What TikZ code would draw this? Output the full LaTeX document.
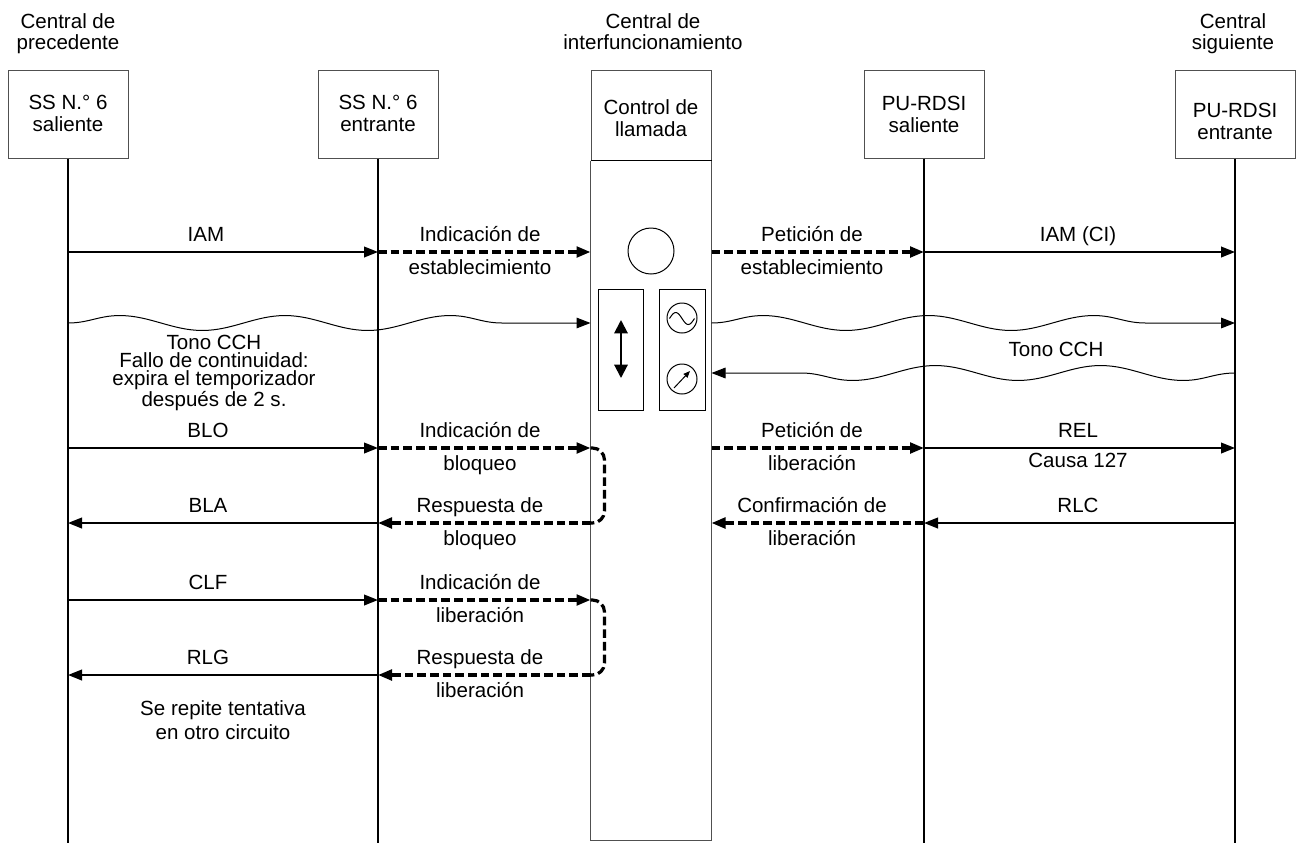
\documentclass[tikz,border=0pt]{standalone}
\usepackage{fontspec}
\setmainfont{Liberation Sans}
\usetikzlibrary{arrows.meta,decorations.pathmorphing}

\newcommand{\sigfont}{\fontsize{15.4}{16.5}\selectfont}

\tikzset{every picture/.style={line width=0.75pt}}
\tikzset{
  unit/.style={draw={rgb, 255:red, 80; green, 80; blue, 80}, line width=0.75pt, minimum width=90pt, minimum height=66pt, inner sep=0pt},
  boxtxt/.style={anchor=north, inner sep=0pt, align=center, font=\fontsize{15.4}{16.5}\selectfont},
  head/.style={anchor=north, inner sep=0pt, align=center, font=\fontsize{15.4}{15.5}\selectfont},
  lbl/.style={anchor=base, inner sep=0pt, font=\sigfont},
  life/.style={line width=1.4pt},
  sig/.style={line width=1.4pt, -{Triangle[length=10.5pt,width=8pt]}},
  intsig/.style={line width=2.4pt, dash pattern=on 6.5pt off 3pt, -{Triangle[length=10.5pt,width=8pt]}},
  loopback/.style={line width=2.4pt, dash pattern=on 6.5pt off 3pt, rounded corners=9pt},
  tone/.style={line width=0.75pt, decorate, decoration={snake, segment length=124pt, amplitude=5.6pt, post length=8pt}, -{Triangle[length=10.5pt,width=8pt]}}
}

\begin{document}
\begin{tikzpicture}[x=0.75pt,y=0.75pt,yscale=-1,xscale=1]
\useasboundingbox (0,0) rectangle (1299,843);

%Rows of the sequence
\coordinate (r1) at (0,252);
\coordinate (w1) at (0,323);
\coordinate (w2) at (0,373);
\coordinate (r2) at (0,448);
\coordinate (r3) at (0,523);
\coordinate (r4) at (0,600);
\coordinate (r5) at (0,675);
\coordinate (base) at (0,840);
\coordinate (floor) at (0,843);

%Exchange headers
\node[head] (hprec) at (68,13) {Central de\\precedente};
\node[head] (hinter) at (653,13) {Central de\\interfuncionamiento};
\node[head] (hsig) at (1233,13) {Central\\siguiente};

%Units
\node[unit] (ssout) at (68,114) {};
\node[unit] (ssin) at (378,114) {};
\node[unit, minimum height=67.5pt] (ctrl) at (651,115) {};
\node[unit] (puout) at (924,114) {};
\node[unit] (puin) at (1235,114) {};

\node[boxtxt] (tssout) at (68,95) {SS N.° 6\\saliente};
\node[boxtxt] (tssin) at (378,95) {SS N.° 6\\entrante};
\node[boxtxt] (tctrl) at (651,99) {Control de\\llamada};
\node[boxtxt] (tpuout) at (924,96) {PU-RDSI\\saliente};
\node[boxtxt] (tpuin) at (1235,103) {PU-RDSI\\entrante};

%Lifelines
\draw[life] (ssout.south) -- (ssout |- floor);
\draw[life] (ssin.south) -- (ssin |- floor);
\draw[life] (puout.south) -- (puout |- floor);
\draw[life] (puin.south) -- (puin |- floor);

%Call control column
\draw[draw={rgb, 255:red, 80; green, 80; blue, 80}] (ctrl.south west) -- (ctrl.south west |- base) -- (ctrl.south east |- base) -- (ctrl.south east);
\draw[line width=1.4pt] (ctrl.south west) -- (ctrl.south east);
\draw (651,251) circle (23);
\draw (598,289) rectangle (643,410);
\draw (659,289) rectangle (705,410);
\draw[line width=1.5pt, {Triangle[length=10pt,width=10pt]}-{Triangle[length=10pt,width=10pt]}] (621,320) -- (621,378);
\draw (682,318) circle (15);
\draw plot[domain=0:360, samples=37] ({669.5+25*\x/360}, {318.5-6*sin(\x)});
\draw (682,379) circle (15);
\draw[-{Triangle[length=5pt,width=4pt]}] (674,388) -- (690,371);

%Set-up
\draw[sig] (ssout |- r1) -- (ssin |- r1);
\draw[intsig] (ssin |- r1) -- (ctrl.west |- r1);
\draw[intsig] (ctrl.east |- r1) -- (puout |- r1);
\draw[sig] (puout |- r1) -- (puin |- r1);
\node[lbl] (lIAM) at (206,241) {IAM};
\node[lbl] (lind1) at (480,241) {Indicación de};
\node[lbl] (lind1b) at (480,274) {establecimiento};
\node[lbl] (lpet1) at (812,241) {Petición de};
\node[lbl] (lpet1b) at (812,274) {establecimiento};
\node[lbl] (lIAMci) at (1078,241) {IAM (CI)};

%Continuity tone
\draw[tone] (ssout |- w1) -- (ctrl.west |- w1);
\draw[tone] (ctrl.east |- w1) -- (puin |- w1);
\draw[tone] (puin |- w2) -- (ctrl.east |- w2);
\node[lbl] (ltone) at (1056,356) {Tono CCH};
\node[head, font=\fontsize{15.4}{13.5}\selectfont] (lfallo) at (214,335) {Tono CCH\\Fallo de continuidad:\\expira el temporizador\\después de 2 s.};

%Blocking
\draw[sig] (ssout |- r2) -- (ssin |- r2);
\draw[intsig] (ssin |- r2) -- (ctrl.west |- r2);
\draw[intsig] (ctrl.east |- r2) -- (puout |- r2);
\draw[sig] (puout |- r2) -- (puin |- r2);
\draw[loopback] (ctrl.west |- r2) -- ++(14,0) |- (ctrl.west |- r3);
\draw[sig] (ssin |- r3) -- (ssout |- r3);
\draw[intsig] (ctrl.west |- r3) -- (ssin |- r3);
\draw[intsig] (puout |- r3) -- (ctrl.east |- r3);
\draw[sig] (puin |- r3) -- (puout |- r3);
\node[lbl] (lBLO) at (208,437) {BLO};
\node[lbl] (lind2) at (480,437) {Indicación de};
\node[lbl] (lind2b) at (480,470) {bloqueo};
\node[lbl] (lpet2) at (812,437) {Petición de};
\node[lbl] (lpet2b) at (812,470) {liberación};
\node[lbl] (lREL) at (1078,437) {REL};
\node[lbl] (lcausa) at (1078,467) {Causa 127};
\node[lbl] (lBLA) at (208,512) {BLA};
\node[lbl] (lresp1) at (480,512) {Respuesta de};
\node[lbl] (lresp1b) at (480,545) {bloqueo};
\node[lbl] (lconf) at (812,512) {Confirmación de};
\node[lbl] (lconfb) at (812,545) {liberación};
\node[lbl] (lRLC) at (1078,512) {RLC};

%Release
\draw[sig] (ssout |- r4) -- (ssin |- r4);
\draw[intsig] (ssin |- r4) -- (ctrl.west |- r4);
\draw[loopback] (ctrl.west |- r4) -- ++(14,0) |- (ctrl.west |- r5);
\draw[sig] (ssin |- r5) -- (ssout |- r5);
\draw[intsig] (ctrl.west |- r5) -- (ssin |- r5);
\node[lbl] (lCLF) at (208,589) {CLF};
\node[lbl] (lind3) at (480,589) {Indicación de};
\node[lbl] (lind3b) at (480,622) {liberación};
\node[lbl] (lRLG) at (208,664) {RLG};
\node[lbl] (lresp2) at (480,664) {Respuesta de};
\node[lbl] (lresp2b) at (480,697) {liberación};
\node[head, font=\fontsize{15.4}{18}\selectfont] (lrepite) at (223,700) {Se repite tentativa\\en otro circuito};

\end{tikzpicture}
\end{document}
